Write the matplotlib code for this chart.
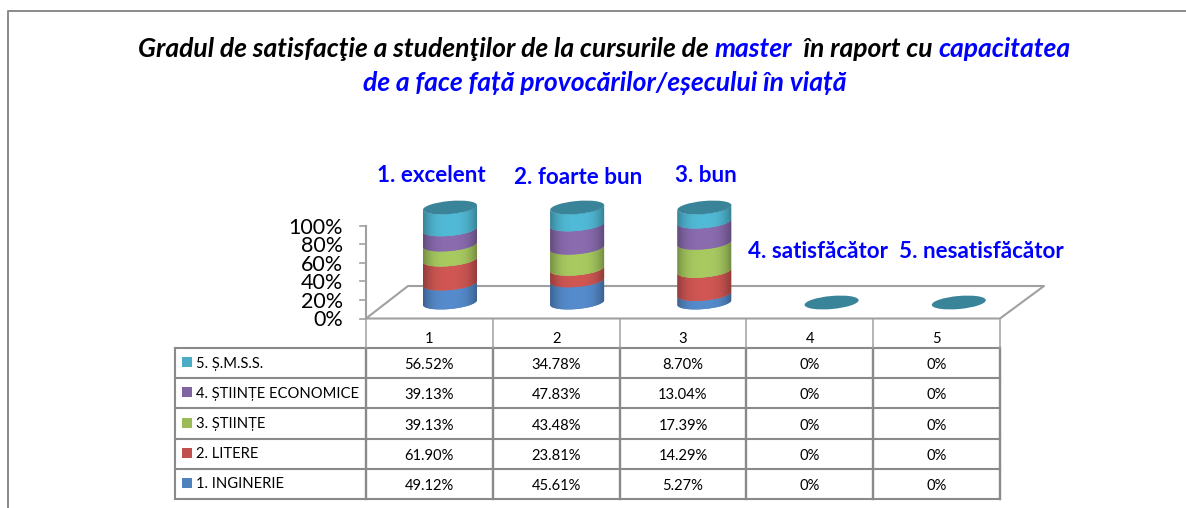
"""Stacked 100% cylinder chart with data table (satisfaction per faculty)."""

from matplotlib import pyplot
from matplotlib.patches import Ellipse, Polygon
import numpy

pyplot.rcParams['font.family'] = ['Lato', 'Noto Sans', 'DejaVu Sans']

categories = ['1', '2', '3', '4', '5']
column_titles = ['1. excelent', '2. foarte bun', '3. bun',
                 '4. satisfăcător', '5. nesatisfăcător']
ytick_labels = ['0%', '20%', '40%', '60%', '80%', '100%']
ytick_values = [0, 20, 40, 60, 80, 100]
# Bottom to top in the stack, bottom to top in the table.
series_names = ['1. INGINERIE', '2. LITERE', '3. ȘTIINȚE',
                '4. ȘTIINȚE ECONOMICE', '5. Ș.M.S.S.']
inginerie = [49.12, 45.61, 5.27, 0, 0]
litere = [61.90, 23.81, 14.29, 0, 0]
stiinte = [39.13, 43.48, 17.39, 0, 0]
economice = [39.13, 47.83, 13.04, 0, 0]
smss = [56.52, 34.78, 8.70, 0, 0]
series_values = [inginerie, litere, stiinte, economice, smss]
series_colors = ['#4f81bd', '#c0504d', '#9bbb59', '#8064a2', '#4bacc6']

TOP_COLOR = '#3a8499'
GREY = '#8a8a8a'
WIDTH, HEIGHT = 1186, 508
TITLE_SIZE = 19.1

# Layout, in pixels of the picture.
TABLE_LEFT, TABLE_X0, COL_W = 175, 366, 126.8
HEAD_Y, ROW0_Y, ROW_H = 318.5, 348, 30.2
CYL_X0, CYL_DX, CYL_A, CYL_B, TILT = 450, 127.2, 27, 6.5, 0.09
CYL_BASE, CYL_H = 302.5, 95
AXIS_Y0, AXIS_H = 318.5, 93


def lower_arc(xc, yc, reverse=False):
    t = numpy.linspace(numpy.pi, 0.0, 40)
    x = xc + CYL_A * numpy.cos(t)
    y = yc - CYL_A * TILT * numpy.cos(t) + CYL_B * numpy.sin(t)
    pts = numpy.column_stack([x, y])
    return pts[::-1] if reverse else pts


def shaded_band(ax, xc, y_top, y_bot, color):
    """Draw one stack segment with a horizontal cylinder shading."""
    poly = numpy.vstack([lower_arc(xc, y_top), lower_arc(xc, y_bot, True)])
    patch = Polygon(poly, closed=True, fc=color, ec='none', zorder=3)
    ax.add_patch(patch)
    rgb = numpy.array(pyplot.matplotlib.colors.to_rgb(color))
    s = numpy.linspace(-1.0, 1.0, 60)
    shade = 1.08 - 0.32 * numpy.abs(s)**3.0
    img = numpy.clip(rgb[None, None, :] * shade[None, :, None], 0.0, 1.0)
    im = ax.imshow(img, extent=(xc - CYL_A, xc + CYL_A, HEIGHT, 0),
                   aspect='auto', zorder=3, interpolation='bilinear')
    im.set_clip_path(patch)


def pct(value):
    return '0%' if value == 0 else f'{value:.2f}%'


fig = pyplot.figure(figsize=(WIDTH / 100, HEIGHT / 100), dpi=100)
ax = fig.add_axes([0, 0, 1, 1])

# Outer frame of the chart area, only top and left are in the picture.
ax.plot([8, 8, WIDTH], [HEIGHT, 11, 11], color=GREY, lw=1.4, zorder=1)

# Title, with some words in blue.
title_parts = [('Gradul de satisfacţie a studenţilor de la cursurile de ', 'black'),
               ('master', '#0000ff'),
               ('  în raport cu ', 'black'),
               ('capacitatea', '#0000ff')]
renderer = fig.canvas.get_renderer()
x_pos = 138
for part, color in title_parts:
    txt = ax.text(x_pos, 49, part, color=color, fontsize=TITLE_SIZE,
                  weight='bold', style='italic', ha='left', va='center')
    # Trailing spaces are not in the extent, so measure with a stop mark.
    probe = ax.text(0, 0, part + '|', fontsize=TITLE_SIZE, weight='bold',
                    style='italic')
    bar = ax.text(0, 0, '|', fontsize=TITLE_SIZE, weight='bold', style='italic')
    x_pos += (probe.get_window_extent(renderer).width
              - bar.get_window_extent(renderer).width)
    probe.remove()
    bar.remove()
ax.text(605, 83, 'de a face față provocărilor/eșecului în viață', color='#0000ff',
        fontsize=TITLE_SIZE, weight='bold', style='italic', ha='center',
        va='center')

# Floor of the 3D plot, closed along the front edge.
floor = [(TABLE_X0, HEAD_Y), (408, 286), (1044, 286), (1000, HEAD_Y),
         (TABLE_X0, HEAD_Y)]
ax.plot(*zip(*floor), color='#a0a0a0', lw=1.5, zorder=2)

# Value axis.
ax.plot([TABLE_X0, TABLE_X0], [AXIS_Y0, AXIS_Y0 - AXIS_H], color='#a0a0a0',
        lw=1.5, zorder=2)
for value, label in zip(ytick_values, ytick_labels):
    y = AXIS_Y0 - AXIS_H * value / 100
    ax.plot([TABLE_X0 - 6, TABLE_X0], [y, y], color='#a0a0a0', lw=1.2, zorder=2)
    ax.text(343, y + 2, label, fontsize=15.5, color='black', ha='right',
            va='center')

# Cylinders.
values = numpy.array(series_values)
totals = values.sum(axis=0)
for i, total in enumerate(totals):
    xc = CYL_X0 + i * CYL_DX
    y_bot = CYL_BASE
    if total > 0:
        for j, color in enumerate(series_colors):
            y_top = y_bot - CYL_H * values[j, i] / total
            shaded_band(ax, xc, y_top, y_bot, color)
            y_bot = y_top
    ax.add_patch(Ellipse((xc, y_bot), 2.0 * CYL_A * 1.004, 2.0 * CYL_B,
                         angle=-numpy.degrees(numpy.arctan(TILT)),
                         fc=TOP_COLOR, ec='none', zorder=4))

# Column captions over the cylinders.
title_pos = [(377, 176), (514, 178), (675, 176), (748, 252), (899, 252)]
for name, (x, y) in zip(column_titles, title_pos):
    ax.text(x, y, name, color='#0000ff', fontsize=16.1, weight='bold',
            ha='left', va='center')

# Data table.
n_rows = len(series_names)
n_cols = len(categories)
table_right = TABLE_X0 + n_cols * COL_W
table_bottom = ROW0_Y + n_rows * ROW_H
for k in range(n_rows + 1):
    y = ROW0_Y + k * ROW_H
    ax.plot([TABLE_LEFT, table_right], [y, y], color=GREY, lw=1.5, zorder=2)
ax.plot([TABLE_LEFT, TABLE_LEFT], [ROW0_Y, table_bottom], color=GREY, lw=1.5)
for k in range(n_cols + 1):
    x = TABLE_X0 + k * COL_W
    ax.plot([x, x], [ROW0_Y, table_bottom], color=GREY, lw=1.7, zorder=2)
    ax.plot([x, x], [HEAD_Y, ROW0_Y], color='#a0a0a0', lw=1.1, zorder=2)
for i, cat in enumerate(categories):
    ax.text(TABLE_X0 + (i + 0.5) * COL_W, 339, cat, fontsize=10.6,
            color='black', ha='center', va='center')
for r in range(n_rows):
    j = n_rows - 1 - r
    y = ROW0_Y + (r + 0.5) * ROW_H
    ax.add_patch(Polygon([(182, y - 6), (192, y - 6), (192, y + 4), (182, y + 4)],
                         closed=True, fc=series_colors[j], ec='none'))
    ax.text(196, y + 0.5, series_names[j], fontsize=10.6, color='black',
            ha='left', va='center')
    for i in range(n_cols):
        ax.text(TABLE_X0 + (i + 0.5) * COL_W, y + 2, pct(values[j, i]),
                fontsize=10.6, color='black', ha='center', va='center')

ax.set_xlim(0, WIDTH)
ax.set_ylim(HEIGHT, 0)
ax.axis('off')
fig.savefig('out.png', dpi=100)
